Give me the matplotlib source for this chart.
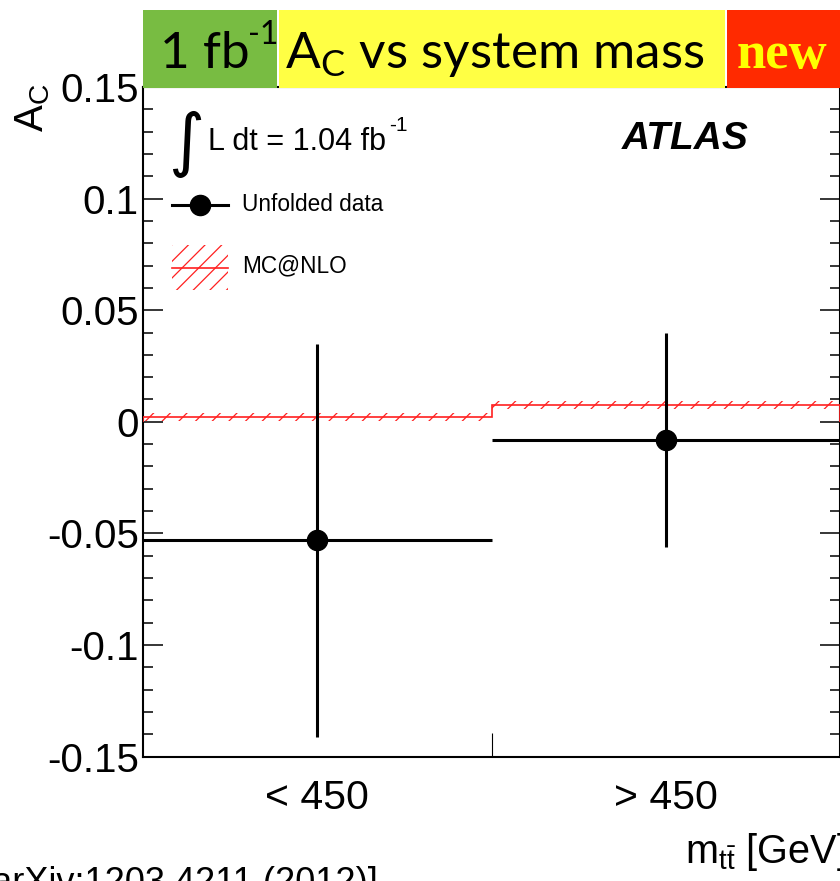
import matplotlib
matplotlib.use("Agg")
import matplotlib.pyplot as plt
from matplotlib.patches import Rectangle
from matplotlib.ticker import MultipleLocator, FuncFormatter

plt.rcParams["axes.unicode_minus"] = False
plt.rcParams["font.family"] = ["Liberation Sans", "DejaVu Sans"]
plt.rcParams["hatch.linewidth"] = 0.9

# --- data -------------------------------------------------------------
mass_bins = ["< 450", "> 450"]          # m_tt bins [GeV]
ac_data = [-0.053, -0.008]              # unfolded charge asymmetry
ac_data_err = [0.088, 0.048]            # total uncertainty
ac_mcnlo = [0.002, 0.0075]              # MC@NLO prediction
ac_mcnlo_err = [0.0018, 0.0018]         # MC@NLO uncertainty band

edges = list(range(len(mass_bins) + 1))
centers = [i + 0.5 for i in range(len(mass_bins))]

RED = "#ff2020"

# --- figure -----------------------------------------------------------
W, H = 840, 881
fig = plt.figure(figsize=(W / 100, H / 100), dpi=100)
ax = fig.add_axes([143 / W, 1 - 756.6 / H, 697.4 / W, 669.6 / H])

# MC@NLO band (hatched) and central line
lo = [v - e for v, e in zip(ac_mcnlo, ac_mcnlo_err)]
hi = [v + e for v, e in zip(ac_mcnlo, ac_mcnlo_err)]
ax.fill_between(edges, lo + [lo[-1]], hi + [hi[-1]], step="post",
                facecolor="none", edgecolor=RED, hatch="//",
                linewidth=0, zorder=2)
ax.stairs(ac_mcnlo, edges, color=RED, linewidth=1.2, zorder=3)

# unfolded data
ax.errorbar(centers, ac_data, yerr=ac_data_err, xerr=0.5, fmt="o",
            color="black", markersize=14.5, elinewidth=2.2, capsize=0,
            zorder=4)

ax.set_xlim(edges[0], edges[-1])
ax.set_ylim(-0.15, 0.15)

# axis styling
for s in ax.spines.values():
    s.set_linewidth(1.5)
ax.yaxis.set_major_locator(MultipleLocator(0.05))
ax.yaxis.set_minor_locator(MultipleLocator(0.01))
ax.yaxis.set_major_formatter(
    FuncFormatter(lambda v, p: "{:g}".format(round(v, 3) + 0.0)))
ax.tick_params(axis="y", which="both", direction="in", left=True, right=True,
               width=1.1, labelsize=29, pad=3)
ax.tick_params(axis="y", which="major", length=14.4)
ax.tick_params(axis="y", which="minor", length=7.2)

ax.set_xticks(edges[1:-1])
ax.set_xticklabels([])
ax.set_xticks(centers, labels=mass_bins, minor=True)
ax.tick_params(axis="x", which="major", direction="in", top=False,
               length=17, width=0.8)
ax.tick_params(axis="x", which="minor", length=0, labelsize=29.5, pad=16)

# axis titles
fig.text(33 / W, 1 - 84 / H, r"A$_\mathregular{C}$", rotation=90,
         ha="center", va="top", fontsize=29)
fig.text(846 / W, 1 - 863 / H, r"m$_{\mathregular{t\bar{t}}}$ [GeV]",
         ha="right", va="baseline", fontsize=28.5)

# legend and labels inside the frame
tr = ax.transAxes
ax.text(0.0617, 0.9149, "\u222b", transform=tr, family="DejaVu Sans",
        fontsize=50, ha="center", va="center")
ax.text(0.0932, 0.9058, "L dt = 1.04 fb", transform=tr,
        fontsize=22, ha="left", va="baseline")
ax.text(0.3535, 0.935, "-1", transform=tr,
        fontsize=15, ha="left", va="baseline")
ax.text(0.6868, 0.9074, "ATLAS", transform=tr, fontsize=28,
        fontweight="bold", fontstyle="italic", ha="left", va="baseline")

ax.plot([0.0416, 0.1219], [0.8238, 0.8238], color="black", lw=2.2,
        transform=tr, clip_on=False)
ax.plot([0.0817], [0.8238], "o", color="black", ms=14.5, transform=tr,
        clip_on=False)
ax.text(0.142, 0.8238, "Unfolded data", transform=tr, fontsize=16.3,
        ha="left", va="center")

ax.add_patch(Rectangle((0.0416, 0.6968), 0.0803, 0.0672, transform=tr,
                       facecolor="none", edgecolor=RED, hatch="//",
                       linewidth=0))
ax.plot([0.0416, 0.1219], [0.7297, 0.7297], color=RED, lw=1.2,
        transform=tr)
ax.text(0.142, 0.7322, "MC@NLO", transform=tr, fontsize=16.3,
        ha="left", va="center")

# header banner
def fig_box(x0, x1, color):
    fig.add_artist(Rectangle((x0 / W, 1 - 88 / H), (x1 - x0) / W, 78 / H,
                             transform=fig.transFigure, facecolor=color,
                             edgecolor="none", zorder=10))

fig_box(143, 277, "#78bc42")
fig_box(279, 725, "#ffff44")
fig_box(727, 845, "#ff2a00")
fig.text(160 / W, 1 - 68 / H, "1 fb", family="Lato",
         fontsize=37, ha="left", va="baseline", zorder=11)
fig.text(248 / W, 1 - 44 / H, "-1", family="Lato",
         fontsize=23, ha="left", va="baseline", zorder=11)
fig.text(495 / W, 1 - 68 / H, r"A$_\mathregular{C}$ vs system mass",
         family="Lato", fontsize=37, ha="center", va="baseline", zorder=11)
fig.text(782 / W, 1 - 68 / H, "new", family="Liberation Serif",
         fontweight="bold", color="#ffff00", fontsize=38, ha="center",
         va="baseline", zorder=11)

# reference line at the bottom
fig.text(378 / W, -12 / H, "[arXiv:1203.4211 (2012)]", fontsize=26,
         ha="right", va="baseline")

fig.savefig("out.png", dpi=100)
